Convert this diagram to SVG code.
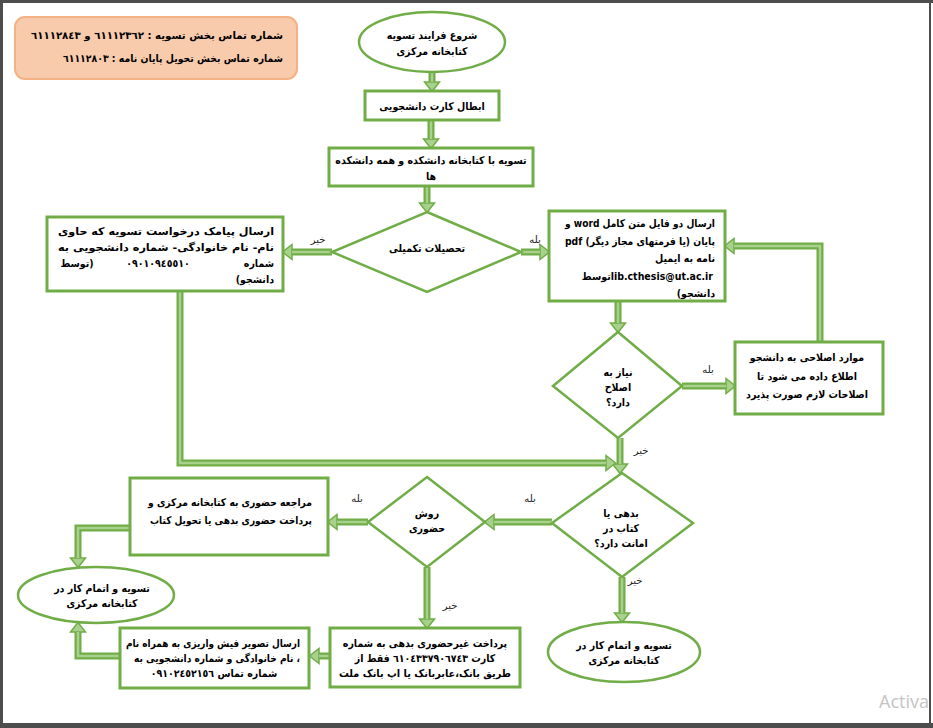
<svg xmlns="http://www.w3.org/2000/svg" width="933" height="728" viewBox="0 0 933 728">
<style>
.n{fill:#fff;stroke:#70ad47;stroke-width:3}
.d{fill:#fff;stroke:#70ad47;stroke-width:2.5}
.e{fill:#fff;stroke:#70ad47;stroke-width:2.5}
.t{font-family:"DejaVu Sans Condensed","DejaVu Sans",sans-serif;font-stretch:condensed;font-weight:bold;font-size:10.5px;fill:#000;direction:rtl}
.m{text-anchor:middle}
.r{text-anchor:start}
.lb{font-family:"DejaVu Sans",sans-serif;font-size:10px;fill:#222;direction:rtl;text-anchor:middle}
.co{fill:none;stroke:#70ad47;stroke-width:7;marker-end:url(#ah)}
.ci{fill:none;stroke:#a9d18e;stroke-width:2.5}
.fr{fill:#4d4d4d}
</style>
<defs>
<marker id="ah" markerUnits="userSpaceOnUse" markerWidth="12" markerHeight="18" refX="1" refY="9" orient="auto" viewBox="0 0 12 18">
<path d="M1,1.5 L10.5,9 L1,16.5 Z" fill="#a9d18e" stroke="#70ad47" stroke-width="1.5"/>
</marker>
</defs>
<rect width="933" height="728" fill="#fff"/>

<g id="contact">
<rect x="15" y="17" width="282" height="62" rx="10" fill="#f8cbad" stroke="#f4b183" stroke-width="2"/>
<text class="t r" x="283" y="39" textLength="252" lengthAdjust="spacingAndGlyphs">شماره تماس بخش تسویه :  ٦١١١٢٣٦٢ و ٦١١١٢٨٤٣</text>
<text class="t r" x="283" y="62" textLength="220" lengthAdjust="spacingAndGlyphs">شماره تماس بخش تحویل پایان نامه : ٦١١١٢٨٠٣</text>
</g>

<g id="connectors">
<path class="co" d="M432,72 V82"/>
<path class="co" d="M431,120 V139"/>
<path class="co" d="M427,186 V203"/>
<path class="co" d="M332,252 H292"/>
<path class="co" d="M521,252 H540"/>
<path class="co" d="M618,301 V323"/>
<path class="co" d="M682,386 H726"/>
<path class="co" d="M820,342 V246 H734"/>
<path class="co" d="M620,438 V464"/>
<path class="co" d="M180,291 V463 H606"/>
<path class="co" d="M552,522 H494"/>
<path class="co" d="M368,522 H337"/>
<path class="co" d="M130,528 H78 V558"/>
<path class="co" d="M427,567 V619"/>
<path class="co" d="M330,656 H319"/>
<path class="co" d="M120,656 H78 V632"/>
<path class="co" d="M622,577 V613"/>
<path class="ci" d="M432,72 V82"/>
<path class="ci" d="M431,120 V139"/>
<path class="ci" d="M427,186 V203"/>
<path class="ci" d="M332,252 H292"/>
<path class="ci" d="M521,252 H540"/>
<path class="ci" d="M618,301 V323"/>
<path class="ci" d="M682,386 H726"/>
<path class="ci" d="M820,342 V246 H734"/>
<path class="ci" d="M620,438 V464"/>
<path class="ci" d="M180,291 V463 H606"/>
<path class="ci" d="M552,522 H494"/>
<path class="ci" d="M368,522 H337"/>
<path class="ci" d="M130,528 H78 V558"/>
<path class="ci" d="M427,567 V619"/>
<path class="ci" d="M330,656 H319"/>
<path class="ci" d="M120,656 H78 V632"/>
<path class="ci" d="M622,577 V613"/>
<text class="lb" x="318" y="243">خیر</text>
<text class="lb" x="535" y="243">بله</text>
<text class="lb" x="708" y="373">بله</text>
<text class="lb" x="641" y="454">خیر</text>
<text class="lb" x="530" y="502">بله</text>
<text class="lb" x="357" y="502">بله</text>
<text class="lb" x="635" y="584">خیر</text>
<text class="lb" x="450" y="609">خیر</text>
</g>

<g id="start">
<ellipse class="e" cx="432" cy="42" rx="73" ry="30"/>
<text class="t m" x="432" y="39">شروع فرایند تسویه</text>
<text class="t m" x="432" y="55">کتابخانه مرکزی</text>
</g>

<g id="cancel-card">
<rect class="n" x="365" y="91" width="134" height="29"/>
<text class="t m" x="432" y="110">ابطال کارت دانشجویی</text>
</g>

<g id="faculty-clearance">
<rect class="n" x="329" y="148" width="204" height="38"/>
<text class="t m" x="431" y="164">تسویه با کتابخانه دانشکده  و همه دانشکده</text>
<text class="t m" x="431" y="180">ها</text>
</g>

<g id="graduate">
<polygon class="d" points="427,212 521,252 427,292 332,252"/>
<text class="t m" x="427" y="252">تحصیلات تکمیلی</text>
</g>

<g id="sms-request">
<rect class="n" x="47" y="217" width="236" height="74"/>
<text class="t r" x="274" y="235" textLength="216" lengthAdjust="spacingAndGlyphs">ارسال پیامک درخواست تسویه که حاوی</text>
<text class="t r" x="274" y="251" textLength="216" lengthAdjust="spacingAndGlyphs">نام- نام خانوادگی- شماره دانشجویی به</text>
<text class="t r" x="274" y="267">شماره</text>
<text class="t m" x="158" y="267">٠٩٠١٠٩٤٥٥١٠</text>
<text class="t m" x="77" y="267">(توسط</text>
<text class="t r" x="274" y="283">دانشجو)</text>
</g>

<g id="send-files">
<rect class="n" x="549" y="211" width="176" height="90"/>
<text class="t r" x="715" y="227" textLength="150" lengthAdjust="spacingAndGlyphs">ارسال دو فایل متن کامل word  و</text>
<text class="t r" x="715" y="245" textLength="150" lengthAdjust="spacingAndGlyphs">پایان (یا فرمتهای مجاز دیگر) pdf</text>
<text class="t r" x="715" y="262">نامه به ایمیل</text>
<text class="t r" x="713" y="280">lib.cthesis@ut.ac.irتوسط</text>
<text class="t r" x="715" y="297">دانشجو)</text>
</g>

<g id="needs-fix">
<polygon class="d" points="618,332 682,386 618,438 553,386"/>
<text class="t m" x="618" y="376">نیاز به</text>
<text class="t m" x="618" y="391">اصلاح</text>
<text class="t m" x="618" y="406">دارد؟</text>
</g>

<g id="corrections">
<rect class="n" x="735" y="342" width="148" height="72"/>
<text class="t m" x="807" y="361">موارد اصلاحی به دانشجو</text>
<text class="t m" x="807" y="380">اطلاع داده می شود تا</text>
<text class="t m" x="807" y="398">اصلاحات لازم صورت پذیرد</text>
</g>

<g id="has-debt">
<polygon class="d" points="622,473 693,523 622,577 552,523"/>
<text class="t m" x="621" y="517">بدهی یا</text>
<text class="t m" x="621" y="532">کتاب در</text>
<text class="t m" x="621" y="547">امانت دارد؟</text>
</g>

<g id="in-person">
<polygon class="d" points="427,477 485,522 427,567 368,522"/>
<text class="t m" x="427" y="517">روش</text>
<text class="t m" x="427" y="532">حضوری</text>
</g>

<g id="visit-library">
<rect class="n" x="130" y="478" width="198" height="77"/>
<text class="t r" x="312" y="506" textLength="164" lengthAdjust="spacingAndGlyphs">مراجعه حضوری به کتابخانه مرکزی و</text>
<text class="t r" x="312" y="524" textLength="162" lengthAdjust="spacingAndGlyphs">پرداخت حضوری بدهی یا تحویل کتاب</text>
</g>

<g id="end-left">
<ellipse class="e" cx="96" cy="595" rx="78" ry="28"/>
<text class="t m" x="102" y="592">تسویه و اتمام کار در</text>
<text class="t m" x="102" y="607">کتابخانه  مرکزی</text>
</g>

<g id="send-receipt">
<rect class="n" x="120" y="628" width="189" height="60"/>
<text class="t r" x="300" y="647" textLength="174" lengthAdjust="spacingAndGlyphs">ارسال تصویر فیش واریزی به همراه نام</text>
<text class="t r" x="300" y="662" textLength="166" lengthAdjust="spacingAndGlyphs">، نام خانوادگی و شماره دانشجویی به</text>
<text class="t m" x="214" y="677">شماره تماس ٠٩١٠٢٤٥٢١٥٦</text>
</g>

<g id="pay-online">
<rect class="n" x="330" y="628" width="190" height="59"/>
<text class="t m" x="425" y="647">پرداخت غیرحضوری بدهی به شماره</text>
<text class="t m" x="425" y="662">کارت ٦١٠٤٣٣٧٩٠٦٧٤٣ فقط از</text>
<text class="t m" x="425" y="677" textLength="172" lengthAdjust="spacingAndGlyphs">طریق بانک،عابربانک یا اپ بانک ملت</text>
</g>

<g id="end-right">
<ellipse class="e" cx="624" cy="652" rx="76" ry="30"/>
<text class="t m" x="624" y="649">تسویه و اتمام کار در</text>
<text class="t m" x="624" y="664">کتابخانه مرکزی</text>
</g>

<text x="879" y="708" font-family="'Open Sans',sans-serif" font-size="18" fill="#c4c4c4">Activa</text>
<rect class="fr" x="0" y="0" width="933" height="3"/>
<rect class="fr" x="0" y="0" width="3" height="728"/>
<rect class="fr" x="929" y="0" width="2" height="728"/>
<rect class="fr" x="0" y="723" width="933" height="5"/>
</svg>
